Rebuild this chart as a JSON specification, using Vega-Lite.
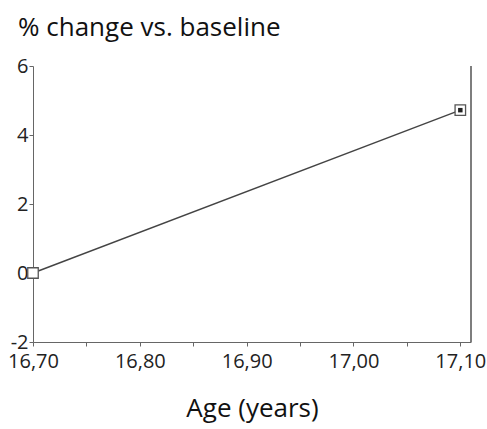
{
  "$schema": "https://vega.github.io/schema/vega-lite/v6.json",
  "width": 438,
  "height": 276,
  "autosize": "none",
  "padding": {"left": 33, "top": 66, "right": 16, "bottom": 87},
  "background": "white",
  "title": {
    "text": "% change vs. baseline",
    "anchor": "start",
    "frame": "group",
    "dx": -15,
    "offset": -6,
    "baseline": "alphabetic",
    "font": "Open Sans",
    "fontSize": 26,
    "fontWeight": "normal",
    "color": "#111"
  },
  "config": {
    "view": {"stroke": null},
    "axis": {
      "grid": false,
      "domainColor": "#666",
      "tickColor": "#666",
      "labelFont": "Open Sans",
      "labelColor": "#222",
      "titleFont": "Open Sans",
      "titleColor": "#111",
      "titleFontWeight": "normal"
    }
  },
  "data": {"values": [
    {"age": 16.70, "change": 0.0},
    {"age": 17.10, "change": 4.72}
  ]},
  "layer": [
    {
      "mark": {"type": "line", "color": "#444", "strokeWidth": 1.4},
      "encoding": {
        "x": {
          "field": "age", "type": "quantitative",
          "scale": {"domain": [16.7, 17.11], "nice": false, "zero": false},
          "axis": {
            "title": "Age (years)",
            "titleFontSize": 26,
            "titlePadding": 24,
            "values": [16.7, 16.75, 16.8, 16.85, 16.9, 16.95, 17.0, 17.05, 17.1],
            "labelExpr": "abs(round(datum.value*100) % 10) == 0 ? replace(format(datum.value, '.2f'), '.', ',') : ''",
            "labelFontSize": 20,
            "labelPadding": 5,
            "tickSize": 4,
            "labelFlush": false
          }
        },
        "y": {
          "field": "change", "type": "quantitative",
          "scale": {"domain": [-2, 6], "nice": false},
          "axis": {
            "title": null,
            "values": [-2, -1, 0, 1, 2, 3, 4, 5, 6],
            "labelExpr": "abs(datum.value % 2) == 0 ? '' + datum.value : ''",
            "labelFontSize": 20,
            "labelPadding": 1,
            "tickSize": 4
          }
        }
      }
    },
    {
      "mark": {"type": "rule", "color": "#666", "strokeWidth": 1.2},
      "encoding": {
        "x": {"datum": 17.11, "type": "quantitative"},
        "y": {"datum": -2, "type": "quantitative"},
        "y2": {"datum": 6}
      }
    },
    {
      "mark": {"type": "point", "shape": "square", "filled": false, "size": 110, "stroke": "#555", "strokeWidth": 1.3, "fill": "white", "fillOpacity": 1},
      "encoding": {
        "x": {"field": "age", "type": "quantitative"},
        "y": {"field": "change", "type": "quantitative"}
      }
    },
    {
      "transform": [{"filter": "datum.age > 17"}],
      "mark": {"type": "point", "shape": "square", "filled": true, "size": 20, "color": "#222", "opacity": 1},
      "encoding": {
        "x": {"field": "age", "type": "quantitative"},
        "y": {"field": "change", "type": "quantitative"}
      }
    }
  ]
}
